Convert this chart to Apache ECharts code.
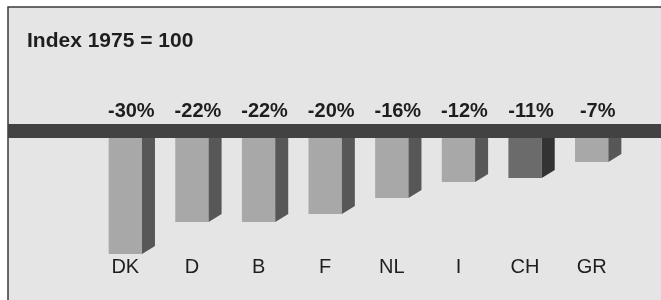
<!DOCTYPE html>
<html>
<head>
<meta charset="utf-8">
<script src="https://cdn.jsdelivr.net/npm/echarts@6/dist/echarts.min.js"></script>
<style>
  html, body { margin: 0; padding: 0; background: #fff; }
  #chart { width: 661px; height: 300px; }
</style>
</head>
<body>
<div id="chart"></div>
<script>
// data (change vs. 1975, in %)
var countries = ['DK', 'D', 'B', 'F', 'NL', 'I', 'CH', 'GR'];
var changes = [-30, -22, -22, -20, -16, -12, -11, -7];
var titleText = 'Index 1975 = 100';

var myChart = echarts.init(document.getElementById('chart'));

var font = '"Liberation Sans", Arial, sans-serif';

var option = {
    animation: false,
    title: {
        text: titleText,
        left: 22,
        top: 26,
        textStyle: { fontFamily: font, fontSize: 21, fontWeight: 'bold', color: '#1e1e1e' }
    },
    grid: { left: 92, right: 36, top: 134, bottom: 42 },
    xAxis: {
        type: 'category',
        data: countries,
        axisLine: { show: false },
        axisTick: { show: false },
        axisLabel: { margin: -1, fontFamily: font, fontSize: 20, color: '#1e1e1e' }
    },
    yAxis: {
        type: 'value',
        min: -31,
        max: 0,
        show: false,
        splitLine: { show: false }
    },
    graphic: [
        // frame + paper
        { type: 'rect', z: 0, shape: { x: 8, y: 7, width: 700, height: 400 },
          style: { fill: '#e5e5e5', stroke: '#3a3a3a', lineWidth: 1.5 } },
        // the dark band
        { type: 'rect', z: 50, shape: { x: 8, y: 124, width: 660, height: 14 },
          style: { fill: '#424242' } }
    ],
    series: [{
        type: 'custom',
        z: 5,
        data: changes.map(function (v, i) { return [i, v]; }),
        renderItem: function (params, api) {
            var i = api.value(0), v = api.value(1);
            var p0 = api.coord([i, 0]);
            var p1 = api.coord([i, v]);
            var w = api.size([1, 0])[0] * 0.5;
            var x0 = p0[0] - w / 2, x1 = p0[0] + w / 2;
            var dx = 13, dy = 8;
            var dark = countries[i] === 'CH';
            return {
                type: 'group',
                children: [
                    { type: 'rect', shape: { x: x0, y: p0[1], width: w, height: p1[1] - p0[1] },
                      style: { fill: dark ? '#6b6b6b' : '#a8a8a8' } },
                    { type: 'polygon', shape: { points: [[x1, p0[1]], [x1 + dx, p0[1] - dy], [x1 + dx, p1[1] - dy], [x1, p1[1]]] },
                      style: { fill: dark ? '#333333' : '#575757' } },
                    { type: 'text', x: p0[0] + 6, y: p0[1] - 23,
                      style: { text: v + '%', fontFamily: font, fontSize: 20, fontWeight: 'bold',
                               fill: '#1e1e1e', align: 'center', verticalAlign: 'middle' } }
                ]
            };
        }
    }]
};
myChart.setOption(option);
</script>
</body>
</html>
